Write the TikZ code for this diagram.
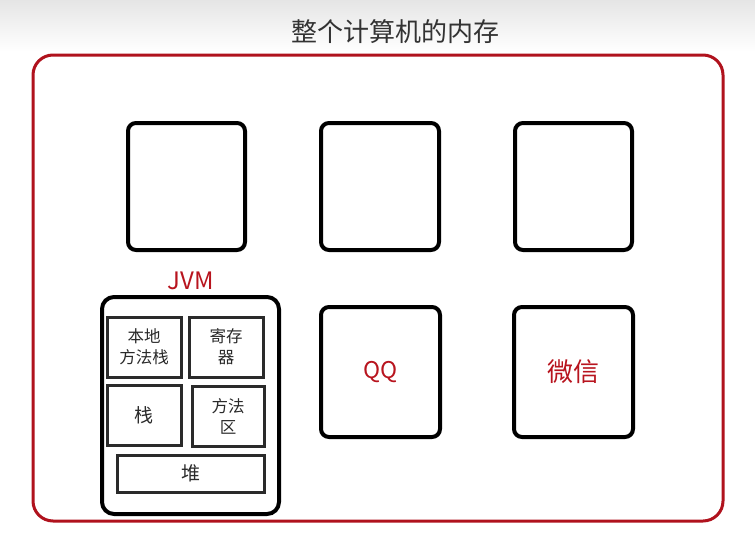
\documentclass[tikz,border=0pt]{standalone}
\usepackage{fontspec}
\setmainfont{Noto Sans CJK SC}
\definecolor{frame}{HTML}{B0121D}
\definecolor{redtext}{HTML}{B8141E}
\definecolor{inner}{HTML}{2A2A2A}
\begin{document}
\begin{tikzpicture}[x=1pt,y=-1pt,
  proc/.style={draw=black,line width=4pt,rounded corners=8pt,fill=white,inner sep=0pt},
  part/.style={draw=inner,line width=3pt,fill=white,inner sep=0pt,align=center,font=\fontsize{16.5}{21}\selectfont,text=inner}]
\useasboundingbox (0,0) rectangle (755,533);
\fill[white] (0,0) rectangle (755,533);
\shade[top color=black!10,bottom color=white] (0,0) rectangle (755,52);
\node[font=\fontsize{26}{30}\selectfont,text=black!80] (title) at (395,32) {整个计算机的内存};
\draw[frame,line width=3pt,rounded corners=20pt] (33,55) rectangle (723,521);
\node[proc,minimum width=117pt,minimum height=127pt] (p1) at (186.5,186.5) {};
\node[proc,minimum width=118pt,minimum height=127pt] (p2) at (380,186.5) {};
\node[proc,minimum width=117pt,minimum height=127pt] (p3) at (573.5,186.5) {};
\node[proc,minimum width=119pt,minimum height=130pt,font=\fontsize{23}{28}\selectfont,text=redtext] (qq) at (380.5,372) {QQ};
\node[proc,minimum width=119pt,minimum height=130pt,font=\fontsize{26}{30}\selectfont,text=redtext] (wx) at (573.5,372) {微信};
\node[proc,rounded corners=12pt,minimum width=177pt,minimum height=217pt] (jvm) at (190.5,405.5) {};
\node[font=\fontsize{24}{28}\selectfont,text=redtext] (jvml) at (190.5,281) {JVM};
\node[part,minimum width=74pt,minimum height=60pt] (native) at (144,347) {本地\\方法栈};
\node[part,minimum width=74pt,minimum height=60pt] (reg) at (226,347) {寄存\\器};
\node[part,minimum width=74pt,minimum height=60pt,font=\fontsize{19}{22}\selectfont] (stack) at (144,415) {栈};
\node[part,minimum width=72pt,minimum height=60pt] (method) at (228,416) {方法\\区};
\node[part,minimum width=147pt,minimum height=37pt,font=\fontsize{19}{22}\selectfont] (heap) at (190.5,473.5) {堆};
\end{tikzpicture}
\end{document}
